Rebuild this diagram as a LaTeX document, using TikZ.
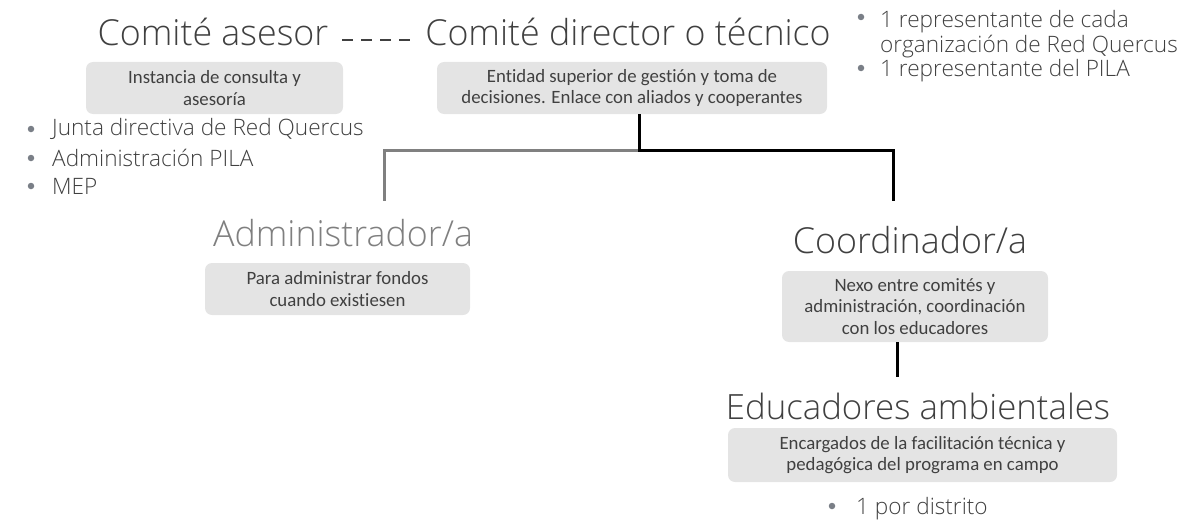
\documentclass[tikz,border=0pt]{standalone}
\usepackage{fontspec}
\setmainfont{Open Sans}
\newfontfamily\lightfont{Open Sans Light}
\newfontfamily\boxfont[Ligatures=NoCommon]{Carlito}
\definecolor{txt}{HTML}{404040}
\definecolor{lighttxt}{HTML}{7F7F7F}
\definecolor{boxfill}{HTML}{E4E4E4}
\definecolor{dotc}{HTML}{7A7F87}
\definecolor{linegray}{HTML}{808080}
\begin{document}
\begin{tikzpicture}[x=1pt,y=-1pt,
  title/.style={inner sep=0pt, text=txt, font=\lightfont\fontsize{35.8}{40}\selectfont},
  desc/.style={fill=boxfill, rounded corners=7pt, inner sep=0pt, align=center, text=txt,
     font=\boxfont\fontsize{18.8}{21.5}\selectfont},
  blt/.style={inner sep=0pt, anchor=west, text=txt, font=\lightfont\fontsize{22.6}{25.5}\selectfont, align=left},
  dot/.style={circle, fill=dotc, inner sep=0pt, minimum size=6.5pt},
  conn/.style={line width=3pt},
]
\useasboundingbox (0,0) rectangle (1196,527);

% titles
\node[title] (ca) at (213,32) {Comité asesor};
\node[title] (cd) at (628,32) {Comité director o técnico};
\node[title, text=lighttxt] (adm) at (343,233) {Administrador/a};
\node[title] (coo) at (910,240) {Coordinador/a};
\node[title, font=\lightfont\fontsize{34.8}{40}\selectfont] (edu) at (918,406) {Educadores ambientales};

% description boxes
\node[desc, minimum width=257pt, minimum height=52pt] (b1) at (214.5,88) {Instancia de consulta y\\asesoría};
\node[desc, minimum width=390pt, minimum height=52pt] (b2) at (632,88) {Entidad superior de gestión y toma de\\decisiones. Enlace con aliados y cooperantes};
\node[desc, minimum width=265pt, minimum height=52pt] (b3) at (337.5,289) {Para administrar fondos\\cuando existiesen};
\node[desc, minimum width=266pt, minimum height=71pt] (b4) at (915,306.5) {Nexo entre comités y\\administración, coordinación\\con los educadores};
\node[desc, minimum width=389pt, minimum height=54pt] (b5) at (922.5,455) {Encargados de la facilitación técnica y\\pedagógica del programa en campo};

% dashed link
\draw[line width=2.6pt, txt, dash pattern=on 11pt off 8pt] (342,40) -- (417,40);

% bullets left
\node[dot] (d1) at (31,129) {};
\node[blt] (t1) at (52,129) {Junta directiva de Red Quercus};
\node[dot] (d2) at (31,158) {};
\node[blt] (t2) at (52,158) {Administración PILA};
\node[dot] (d3) at (31,186) {};
\node[blt] (t3) at (52,186) {MEP};

% bullets right
\node[dot] (d4) at (861,17) {};
\node[blt] (t4) at (880,34) {1 representante de cada\\organización de Red Quercus};
\node[dot] (d5) at (861,68) {};
\node[blt] (t5) at (880,71) {1 representante del PILA};

% bullet bottom
\node[dot] (d6) at (832,506) {};
\node[blt] (t6) at (856,509) {1 por distrito};

% connectors
\coordinate (j) at (639,150);
\coordinate (l) at (384,150);
\coordinate (r) at (893,150);
\coordinate (ltop) at (384,201);
\coordinate (rtop) at (893,201);
\coordinate (ebot) at (897,377);
\draw[conn, linegray] (j) -- (l) -- (ltop);
\draw[conn, black] (b2.south -| j) -- (j) -- (r) -- (rtop);
\draw[conn, black] (b4.south -| ebot) -- (ebot);
\end{tikzpicture}
\end{document}
